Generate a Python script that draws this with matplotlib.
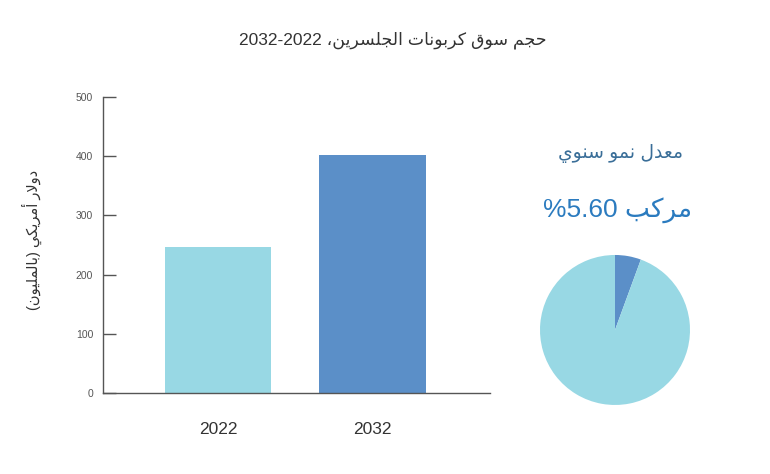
import matplotlib
matplotlib.use("Agg")
import matplotlib.pyplot as plt

plt.rcParams['font.family'] = ['Liberation Sans', 'DejaVu Sans']

# ---------------- data ----------------
title_text = "حجم سوق كربونات الجلسرين، 2022-2032"
ylabel_text = "دولار أمريكي (بالمليون)"
years = ["2022", "2032"]
market_values = [246.5, 402]
y_ticks = [0, 100, 200, 300, 400, 500]
cagr_label = "معدل نمو سنوي"
cagr_value_text = "مركب 5.60%"
cagr_share = [5.6, 94.4]

bar_colors = ["#98d8e4", "#5b8fc8"]
pie_colors = ["#5b8fc8", "#98d8e4"]

# ------------- minimal Arabic shaping (presentation forms) -------------
FORMS = {  # isolated, final, initial, medial
    'ا': ('\uFE8D', '\uFE8E', None, None),
    'أ': ('\uFE83', '\uFE84', None, None),
    'ب': ('\uFE8F', '\uFE90', '\uFE91', '\uFE92'),
    'ت': ('\uFE95', '\uFE96', '\uFE97', '\uFE98'),
    'ج': ('\uFE9D', '\uFE9E', '\uFE9F', '\uFEA0'),
    'ح': ('\uFEA1', '\uFEA2', '\uFEA3', '\uFEA4'),
    'د': ('\uFEA9', '\uFEAA', None, None),
    'ر': ('\uFEAD', '\uFEAE', None, None),
    'س': ('\uFEB1', '\uFEB2', '\uFEB3', '\uFEB4'),
    'ع': ('\uFEC9', '\uFECA', '\uFECB', '\uFECC'),
    'ق': ('\uFED5', '\uFED6', '\uFED7', '\uFED8'),
    'ك': ('\uFED9', '\uFEDA', '\uFEDB', '\uFEDC'),
    'ل': ('\uFEDD', '\uFEDE', '\uFEDF', '\uFEE0'),
    'م': ('\uFEE1', '\uFEE2', '\uFEE3', '\uFEE4'),
    'ن': ('\uFEE5', '\uFEE6', '\uFEE7', '\uFEE8'),
    'و': ('\uFEED', '\uFEEE', None, None),
    'ي': ('\uFEF1', '\uFEF2', '\uFEF3', '\uFEF4'),
}
LAM_ALEF = {'ا': ('\uFEFB', '\uFEFC'), 'أ': ('\uFEF7', '\uFEF8')}


def joins_left(ch):
    return ch in FORMS and FORMS[ch][2] is not None


def shape_word(word):
    chars = list(word)
    out = []
    i = 0
    while i < len(chars):
        c = chars[i]
        prev = chars[i - 1] if i > 0 else None
        connect_prev = prev is not None and joins_left(prev)
        if c == 'ل' and i + 1 < len(chars) and chars[i + 1] in LAM_ALEF:
            iso, fin = LAM_ALEF[chars[i + 1]]
            out.append(fin if connect_prev else iso)
            i += 2
            continue
        if c not in FORMS:
            out.append(c)
            i += 1
            continue
        nxt = chars[i + 1] if i + 1 < len(chars) else None
        connect_next = joins_left(c) and nxt is not None and nxt in FORMS
        iso, fin, ini, med = FORMS[c]
        if connect_prev and connect_next:
            out.append(med)
        elif connect_prev:
            out.append(fin)
        elif connect_next:
            out.append(ini)
        else:
            out.append(iso)
        i += 1
    return ''.join(out)


def rtl(text):
    # split into runs: LTR (digits and '.') vs RTL/neutral
    runs = []
    cur = ''
    cur_ltr = None
    for ch in text:
        is_ltr = ch.isdigit() or ch == '.'
        if cur_ltr is None or is_ltr == cur_ltr:
            cur += ch
        else:
            runs.append((cur, cur_ltr))
            cur = ch
        cur_ltr = is_ltr
    if cur:
        runs.append((cur, cur_ltr))
    mirror = {'(': ')', ')': '('}
    vis = []
    for s, is_ltr in reversed(runs):
        if is_ltr:
            vis.append(s)
        else:
            words = s.split(' ')
            shaped = ' '.join(shape_word(w) for w in words)
            vis.append(''.join(mirror.get(c, c) for c in reversed(shaped)))
    return ''.join(vis)


# ---------------- figure ----------------
fig = plt.figure(figsize=(7.7, 4.74), dpi=100)
fig.patch.set_facecolor("white")

fig.text(0.510, 0.915, rtl(title_text), ha="center", va="center",
         fontsize=12.5, color="#333333")

ax = fig.add_axes([0.1338, 0.1709, 0.5026, 0.6245])
x = list(range(len(years)))
ax.bar(x, market_values, width=0.69, color=bar_colors)
ax.set_xlim(-0.745, 1.76)
ax.set_ylim(0, 500)
ax.set_yticks(y_ticks)
ax.set_yticklabels([str(t) for t in y_ticks], fontsize=7.5, color="#555555")
ax.tick_params(axis="y", direction="in", length=9, width=1, color="#555555", pad=7)
ax.set_xticks(x)
ax.set_xticklabels(years, fontsize=12.5, color="#333333")
ax.tick_params(axis="x", length=0, pad=21)
for s in ["top", "right"]:
    ax.spines[s].set_visible(False)
for s in ["left", "bottom"]:
    ax.spines[s].set_color("#555555")
    ax.spines[s].set_linewidth(1)
ax.set_ylabel(rtl(ylabel_text), fontsize=10.5, color="#333333")
ax.yaxis.set_label_coords(-0.158, 0.517)

fig.text(0.806, 0.677, rtl(cagr_label), ha="center", va="center",
         fontsize=13.5, color="#3a6e98")
fig.text(0.802, 0.557, rtl(cagr_value_text), ha="center", va="center",
         fontsize=19, color="#2b7bbf")

pax = fig.add_axes([0.7013, 0.1456, 0.1948, 0.3165])
pax.pie(cagr_share, colors=pie_colors, startangle=90, counterclock=False,
        radius=1)
pax.set_xlim(-1, 1)
pax.set_ylim(-1, 1)
pax.set_aspect("equal")
pax.axis("off")

fig.savefig("out.png", dpi=100, facecolor="white")
